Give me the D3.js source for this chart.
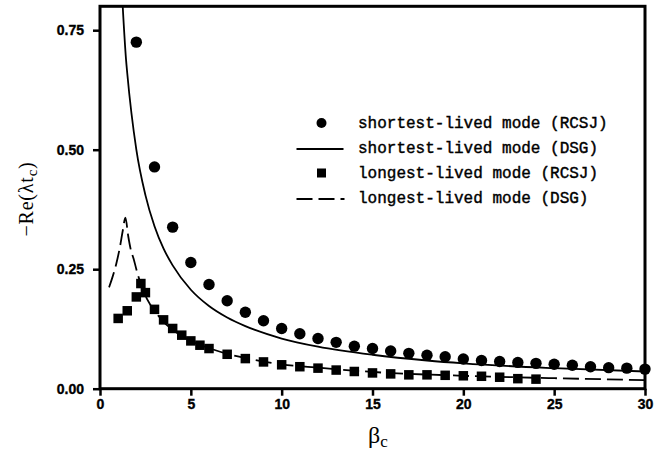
<!DOCTYPE html>
<html>
<head>
<meta charset="utf-8">
<script src="https://cdn.jsdelivr.net/npm/d3@7"></script>
<style>
  body { margin: 0; background: #fff; }
  .tick text { font-family: "Liberation Sans", Arial, sans-serif; font-weight: bold; font-size: 14px; fill: #000; stroke: #000; stroke-width: 0.35px; }
  .tick line { stroke: #000; stroke-width: 2.5; }
</style>
</head>
<body>
<svg id="chart" width="672" height="464"></svg>
<script>
// Shortest-lived mode, RCSJ simulation (circles)
const shortRcsjBeta = [2, 3, 4, 5, 6, 7, 8, 9, 10, 11, 12, 13, 14, 15, 16, 17, 18, 19, 20, 21, 22, 23, 24, 25, 26, 27, 28, 29, 30];
const shortRcsjRate = [0.725, 0.464, 0.338, 0.264, 0.218, 0.184, 0.160, 0.142, 0.126, 0.115, 0.105, 0.097, 0.089, 0.084, 0.079, 0.074, 0.070, 0.067, 0.062, 0.059, 0.057, 0.055, 0.053, 0.051, 0.049, 0.046, 0.044, 0.043, 0.041];

// Shortest-lived mode, DSG theory (solid curve)
const shortDsgBeta = [1.25, 1.43, 1.5, 2, 2.5, 3, 3.5, 4, 5, 6, 7, 8, 10, 12, 15, 18, 20, 25, 30];
const shortDsgRate = [0.80, 0.69, 0.66, 0.50, 0.405, 0.34, 0.293, 0.258, 0.207, 0.173, 0.149, 0.131, 0.105, 0.088, 0.071, 0.059, 0.053, 0.043, 0.036];

// Longest-lived mode, RCSJ simulation (squares)
const longRcsjBeta = [1, 1.5, 2, 2.25, 2.5, 3, 3.5, 4, 4.5, 5, 5.5, 6, 7, 8, 9, 10, 11, 12, 13, 14, 15, 16, 17, 18, 19, 20, 21, 22, 23, 24];
const longRcsjRate = [0.147, 0.163, 0.192, 0.220, 0.201, 0.166, 0.144, 0.126, 0.112, 0.100, 0.091, 0.084, 0.072, 0.063, 0.056, 0.050, 0.046, 0.043, 0.039, 0.036, 0.033, 0.031, 0.029, 0.029, 0.028, 0.027, 0.026, 0.024, 0.021, 0.020];

// Longest-lived mode, DSG theory (dashed curve)
const longDsgBeta = [0.5, 0.7, 0.9, 1.1, 1.25, 1.4, 1.55, 1.7, 1.85, 2.0, 2.3, 2.6, 3, 3.5, 4, 5, 6, 7, 8, 10, 12, 15, 20, 25, 30];
const longDsgRate = [0.212, 0.235, 0.262, 0.297, 0.33, 0.358, 0.32, 0.29, 0.272, 0.25, 0.213, 0.187, 0.163, 0.140, 0.123, 0.100, 0.085, 0.073, 0.064, 0.051, 0.044, 0.035, 0.027, 0.022, 0.018];

const xTicks = [0, 5, 10, 15, 20, 25, 30];
const yTicks = [0, 0.25, 0.50, 0.75];

const legendLabels = [
  "shortest-lived mode (RCSJ)",
  "shortest-lived mode (DSG)",
  "longest-lived mode (RCSJ)",
  "longest-lived mode (DSG)"
];

const svg = d3.select("#chart");
const margin = { left: 100, right: 27, top: 6.3, bottom: 75.3 };
const W = 672, H = 464;
const x = d3.scaleLinear().domain([0, 30]).range([margin.left, W - margin.right]);
const y = d3.scaleLinear().domain([0, 0.8]).range([H - margin.bottom, margin.top]);

const zip = (a, b) => a.map((v, i) => [v, b[i]]);

svg.append("clipPath").attr("id", "plot-clip")
  .append("rect")
  .attr("x", x(0)).attr("y", y(0.8))
  .attr("width", x(30) - x(0)).attr("height", y(0) - y(0.8));

const plot = svg.append("g").attr("clip-path", "url(#plot-clip)");

const line = d3.line().x(d => x(d[0])).y(d => y(d[1])).curve(d3.curveMonotoneX);

plot.append("path")
  .datum(zip(shortDsgBeta, shortDsgRate))
  .attr("d", line)
  .attr("fill", "none").attr("stroke", "#000").attr("stroke-width", 1.8);

plot.append("path")
  .datum(zip(longDsgBeta, longDsgRate))
  .attr("d", line)
  .attr("fill", "none").attr("stroke", "#000").attr("stroke-width", 1.8)
  .attr("stroke-dasharray", "16,6");

const sq = 9.5;
svg.append("g").selectAll("rect")
  .data(zip(longRcsjBeta, longRcsjRate))
  .join("rect")
  .attr("x", d => x(d[0]) - sq / 2).attr("y", d => y(d[1]) - sq / 2)
  .attr("width", sq).attr("height", sq).attr("fill", "#000");

svg.append("g").selectAll("circle")
  .data(zip(shortRcsjBeta, shortRcsjRate))
  .join("circle")
  .attr("cx", d => x(d[0])).attr("cy", d => y(d[1]))
  .attr("r", 5.7).attr("fill", "#000");

// Axes
const xAxis = svg.append("g")
  .attr("transform", `translate(0,${y(0)})`)
  .call(d3.axisBottom(x).tickValues(xTicks).tickFormat(d3.format("d")).tickSize(7).tickSizeOuter(0).tickPadding(3));
xAxis.select(".domain").remove();

const yAxis = svg.append("g")
  .attr("transform", `translate(${x(0)},0)`)
  .call(d3.axisLeft(y).tickValues(yTicks).tickFormat(d3.format(".2f")).tickSize(7).tickSizeOuter(0).tickPadding(9));
yAxis.select(".domain").remove();

// Frame
svg.append("rect")
  .attr("x", x(0)).attr("y", y(0.8))
  .attr("width", x(30) - x(0)).attr("height", y(0) - y(0.8))
  .attr("fill", "none").attr("stroke", "#000").attr("stroke-width", 3);

// Axis titles
const serif = "'Liberation Serif', 'Times New Roman', serif";
const yTitle = svg.append("text")
  .attr("transform", "translate(33,199) rotate(-90)")
  .attr("text-anchor", "middle")
  .attr("font-family", serif).attr("font-size", 20).attr("letter-spacing", 0.8).attr("fill", "#000");
yTitle.append("tspan").text("\u2212Re(\u03bbt");
yTitle.append("tspan").attr("font-size", 15).attr("dy", 4).text("c");
yTitle.append("tspan").attr("dy", -4).text(")");

const xTitle = svg.append("text")
  .attr("x", 378).attr("y", 443)
  .attr("text-anchor", "middle")
  .attr("font-family", serif).attr("font-size", 24).attr("fill", "#000");
xTitle.append("tspan").text("\u03b2");
xTitle.append("tspan").attr("font-size", 17).attr("dy", 4).text("c");

// Legend
const legend = svg.append("g");
const rowY = [123, 148, 173, 198];
const symX0 = 296.5, symX1 = 343.5, symCx = 321.5, textX = 358;

legend.append("circle").attr("cx", symCx).attr("cy", rowY[0]).attr("r", 5).attr("fill", "#000");
legend.append("line").attr("x1", symX0).attr("x2", symX1).attr("y1", rowY[1] + 1).attr("y2", rowY[1] + 1)
  .attr("stroke", "#000").attr("stroke-width", 1.8);
legend.append("rect").attr("x", symCx - 4.5).attr("y", rowY[2] - 4.5).attr("width", 9).attr("height", 9).attr("fill", "#000");
legend.append("line").attr("x1", symX0).attr("x2", symX1 + 1).attr("y1", rowY[3] + 1).attr("y2", rowY[3] + 1)
  .attr("stroke", "#000").attr("stroke-width", 1.8).attr("stroke-dasharray", "16,6");

legend.selectAll("text.lab")
  .data(legendLabels)
  .join("text")
  .attr("class", "lab")
  .attr("x", textX).attr("y", (d, i) => rowY[i] + 5)
  .attr("font-family", "'Liberation Mono', 'Courier New', monospace")
  .attr("font-size", 16).attr("fill", "#000")
  .attr("stroke", "#000").attr("stroke-width", 0.4)
  .text(d => d);
</script>
</body>
</html>
